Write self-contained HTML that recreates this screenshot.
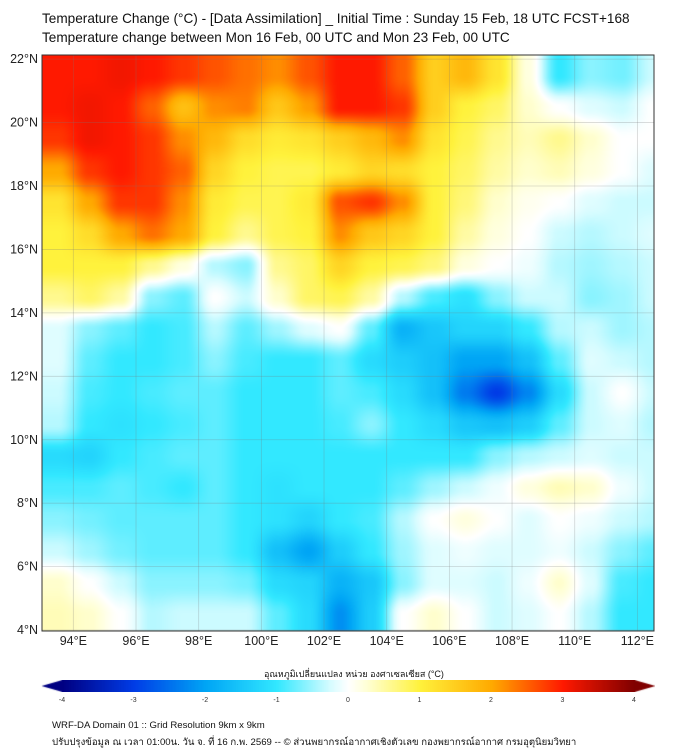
<!DOCTYPE html>
<html><head><meta charset="utf-8">
<style>
body{margin:0;background:#fff;width:676px;height:756px;position:relative;overflow:hidden;font-family:"Liberation Sans","Noto Sans CJK SC",sans-serif;color:#111}
.t{position:absolute;white-space:nowrap}
</style></head><body>
<div class="t" style="left:42px;top:11px;font-size:13.6px">Temperature Change (°C) - [Data Assimilation] _ Initial Time : Sunday 15 Feb, 18 UTC FCST+168</div>
<div class="t" style="left:42px;top:30px;font-size:13.6px">Temperature change between Mon 16 Feb, 00 UTC and Mon 23 Feb, 00 UTC</div>
<canvas id="map" width="612" height="576" style="position:absolute;left:42px;top:55px"></canvas>
<svg id="ov" width="676" height="756" style="position:absolute;left:0;top:0"></svg>
<div class="t" style="left:264px;top:667px;font-size:9px">อุณหภูมิเปลี่ยนแปลง หน่วย องศาเซลเซียส (°C)</div>
<canvas id="cb" width="614" height="12" style="position:absolute;left:41px;top:680px"></canvas>
<div class="t" style="left:52px;top:720px;font-size:9.6px">WRF-DA Domain 01 :: Grid Resolution 9km x 9km</div>
<div class="t" style="left:52px;top:735px;font-size:9.6px">ปรับปรุงข้อมูล ณ เวลา 01:00น. วัน จ. ที่ 16 ก.พ. 2569 -- © ส่วนพยากรณ์อากาศเชิงตัวเลข กองพยากรณ์อากาศ กรมอุตุนิยมวิทยา</div>
<script>
const lons=[93.5,94.5,95.5,96.5,97.5,98.5,99.5,100.5,101.5,102.5,103.5,104.5,105.5,106.5,107.5,108.5,109.5,110.5,111.5,112.5];
const lats=[21.5,20.5,19.5,18.5,17.5,16.5,15.5,14.5,13.5,12.5,11.5,10.5,9.5,8.5,7.5,6.5,5.5,4.5];
const tempChange=[
[3,3,3.1,3,2.8,2.6,2.4,2.2,2.6,3,3,2.5,1.5,1.8,1.2,0.2,-1,-0.6,-0.7,-0.3],
[3,3.1,3,2.5,1.7,2.2,2.3,1.6,2.1,3,3,2.8,1.5,1,0.8,0.3,0,-0.2,-0.3,0],
[2.8,3.1,3,2.8,2.2,1.8,1.3,1.1,1.2,1.5,1.8,2.2,1.2,0.9,0.6,0.4,0.6,0.3,0,0],
[2,2.8,3,2.8,2.5,1.4,1,0.9,0.9,1.1,1.4,1.3,1,0.8,0.5,0.3,0.4,0.2,0,-0.2],
[1.2,2,2.8,2.8,2.2,1.1,0.9,0.9,1.1,2.6,2.8,2.2,1,0.7,0.3,0.1,0,-0.2,-0.3,-0.3],
[1,1.3,2,2.4,2,1,0.6,0.9,1,2.2,1.6,1.4,1,0.5,0.2,0,-0.3,-0.4,-0.3,-0.2],
[1,1,1,0.6,0.2,-0.4,-0.6,0.6,0.8,1.4,1,0.9,0.7,0.2,0,-0.1,-0.4,-0.5,-0.4,-0.3],
[0.6,0.8,0.5,-0.6,-0.8,0,-0.3,0.3,0.8,0.9,0.5,-0.4,-0.9,-1.1,-0.6,-0.3,-0.3,-0.6,-0.5,-0.3],
[-0.2,-0.6,-0.8,-1,-0.9,-0.4,-0.8,-0.5,-0.2,0,-0.8,-1.8,-1.5,-1.3,-1.3,-1,-0.4,-0.3,-0.5,-0.4],
[-0.2,-0.8,-1,-1,-0.9,-0.6,-0.9,-1,-1,-0.8,-1.2,-1.4,-1.6,-2,-2,-1.6,-0.8,-0.2,-0.3,-0.4],
[-0.3,-0.9,-1,-0.9,-0.8,-0.8,-1,-1,-1,-0.8,-0.9,-1.2,-1.6,-2.4,-3,-2.3,-1.2,-0.3,0,-0.3],
[-0.4,-1,-1.1,-1,-0.9,-0.8,-1,-1,-1,-0.9,-0.6,-1,-1.2,-1.5,-1.6,-1.4,-0.8,-0.3,-0.2,-0.4],
[-1.2,-1.3,-1,-0.9,-0.8,-0.8,-1,-1,-1,-1,-1,-1,-1,-1,-0.6,-0.4,-0.3,-0.2,-0.3,-0.3],
[-0.9,-0.9,-0.8,-0.9,-1,-0.8,-1,-1.1,-1,-1,-1,-0.8,-0.5,-0.3,-0.1,0.2,0.4,0.3,-0.1,-0.3],
[-0.6,-0.7,-0.8,-0.8,-0.8,-0.8,-1,-1.1,-1.3,-1,-0.9,-0.4,0,0.2,0,-0.2,0,-0.1,-0.3,-0.4],
[-0.3,-0.5,-0.7,-0.8,-0.8,-0.8,-1,-1.6,-2,-1.4,-1,-0.5,-0.2,-0.1,-0.2,-0.2,-0.1,-0.3,-0.6,-0.8],
[0.3,0,-0.3,-0.6,-0.6,-0.6,-0.7,-1.2,-1.3,-1.8,-1.5,-0.6,-0.2,-0.2,-0.3,-0.1,0.3,-0.2,-0.9,-1],
[0.4,0.3,0,-0.4,-0.3,-0.3,-0.3,-0.8,-1.2,-2.2,-1.4,0,0.3,0,-0.3,-0.2,0,-0.4,-1,-1]];
const lonTicks=[94,96,98,100,102,104,106,108,110,112];
const latTicks=[22,20,18,16,14,12,10,8,6,4];
const cbTicks=[-4,-3,-2,-1,0,1,2,3,4];

const stops=[[-4,[0,0,130]],[-3,[0,60,230]],[-2,[0,165,245]],[-1,[50,232,255]],[-0.25,[215,252,255]],[0,[255,255,255]],[0.25,[255,255,215]],[1,[255,242,60]],[2,[255,170,0]],[3,[255,25,0]],[4,[128,0,0]]];
function color(v){v=Math.max(-4,Math.min(4,v));
 for(let i=0;i<stops.length-1;i++){const a=stops[i],b=stops[i+1];if(v<=b[0]){const t=(v-a[0])/(b[0]-a[0]);return a[1].map((c,k)=>Math.round(c+(b[1][k]-c)*t));}}return stops[stops.length-1][1];}
const X0=42,X1=654,LON0=93.0,LON1=112.53,Y0=55,LAT0=22.13,PPD_LAT=31.72;
const xOf=lon=>X0+(lon-LON0)/(LON1-LON0)*(X1-X0);
const yOf=lat=>Y0+(LAT0-lat)*PPD_LAT;
const lonOf=x=>LON0+(x-X0)/(X1-X0)*(LON1-LON0);
const latOf=y=>LAT0-(y-Y0)/PPD_LAT;
function sample(lon,lat){
 let fi=(lons.length-1)*(lon-lons[0])/(lons[lons.length-1]-lons[0]);
 let fj=(lats.length-1)*(lats[0]-lat)/(lats[0]-lats[lats.length-1]);
 fi=Math.max(0,Math.min(lons.length-1.0001,fi));fj=Math.max(0,Math.min(lats.length-1.0001,fj));
 const i=Math.floor(fi),j=Math.floor(fj);let u=fi-i,w=fj-j;
 u=u*u*(3-2*u);w=w*w*(3-2*w);
 const r0=tempChange[j],r1=tempChange[j+1];
 return (r0[i]*(1-u)+r0[i+1]*u)*(1-w)+(r1[i]*(1-u)+r1[i+1]*u)*w;}
const mc=document.getElementById('map').getContext('2d');
const img=mc.createImageData(612,576);
for(let y=0;y<576;y++)for(let x=0;x<612;x++){const c=color(sample(lonOf(x+X0),latOf(y+Y0)));const p=(y*612+x)*4;img.data[p]=c[0];img.data[p+1]=c[1];img.data[p+2]=c[2];img.data[p+3]=255;}
mc.putImageData(img,0,0);
const ns='http://www.w3.org/2000/svg',ov=document.getElementById('ov');
function mk(tag,at){const e=document.createElementNS(ns,tag);for(const k in at)e.setAttribute(k,at[k]);ov.appendChild(e);return e;}
lonTicks.forEach(l=>{const x=xOf(l);
 const g=mk('line',{x1:x,x2:x,y1:Y0,y2:631,stroke:'rgba(120,120,120,0.3)','stroke-width':0.8});
 
 
 const t=mk('text',{x:x,y:645,'text-anchor':'middle','font-size':12.5,'font-family':'Liberation Sans, sans-serif',fill:'#222'});t.textContent=l+'°E';
 
 });
latTicks.forEach(l=>{const y=yOf(l);
 const g=mk('line',{x1:X0,x2:X1,y1:y,y2:y,stroke:'rgba(120,120,120,0.3)','stroke-width':0.8});
 
 
 const t=mk('text',{x:38,y:y+4,'text-anchor':'end','font-size':12.5,'font-family':'Liberation Sans, sans-serif',fill:'#222'});t.textContent=l+'°N';
 
 });
const fr=mk('rect',{x:X0,y:Y0,width:X1-X0,height:631-Y0,fill:'none',stroke:'#333','stroke-width':1});


const cc=document.getElementById('cb').getContext('2d');
const CB0=21,CB1=593,cbx=v=>CB0+(v+4)/8*(CB1-CB0);
for(let x=0;x<614;x++){let v=-4+(x-CB0)/(CB1-CB0)*8;const c=color(v);cc.fillStyle=`rgb(${c})`;
 let h=6;if(x<CB0)h=6*(x)/CB0;if(x>CB1)h=6*(614-x)/(614-CB1);cc.fillRect(x,6-h,1,2*h);}
cbTicks.forEach(v=>{const t=mk('text',{x:41+cbx(v),y:702,'text-anchor':'middle','font-size':7,'font-family':'Liberation Sans, sans-serif',fill:'#333'});t.textContent=v;
 
 });
</script>
</body></html>
